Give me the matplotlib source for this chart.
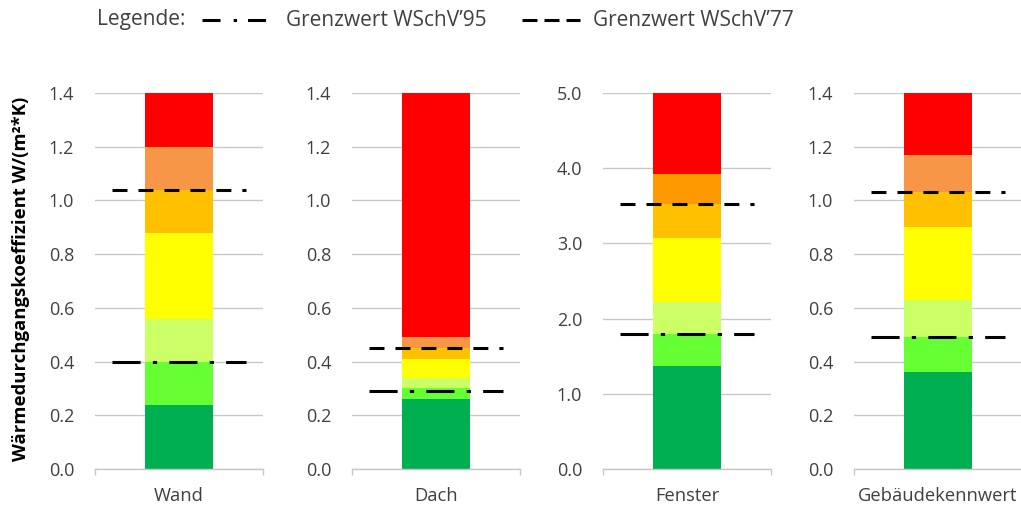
import matplotlib
matplotlib.use("Agg")
import matplotlib.pyplot as plt
from matplotlib.lines import Line2D
from matplotlib.ticker import FormatStrFormatter, MultipleLocator

plt.rcParams['font.family'] = ['Open Sans', 'DejaVu Sans']

categories = ["Wand", "Dach", "Fenster", "Gebäudekennwert"]
# upper edge of each colour band (bottom -> top)
wand_tops = [0.24, 0.40, 0.56, 0.88, 1.04, 1.20, 1.40]
dach_tops = [0.26, 0.30, 0.34, 0.41, 0.45, 0.49, 1.40]
fenster_tops = [1.37, 1.79, 2.22, 3.07, 3.52, 3.92, 5.00]
gebaeude_tops = [0.36, 0.49, 0.63, 0.90, 1.03, 1.17, 1.40]
limit_95 = [0.40, 0.29, 1.79, 0.49]
limit_77 = [1.04, 0.45, 3.52, 1.03]
y_max = [1.4, 1.4, 5.0, 1.4]
y_step = [0.2, 0.2, 1.0, 0.2]

band_colors = ["#00B050", "#66FF33", "#CCFF66", "#FFFF00", "#FFC000", "#F79646", "#FF0000"]
fenster_colors = ["#00B050", "#66FF33", "#CCFF66", "#FFFF00", "#FFC000", "#FF9900", "#FF0000"]
all_tops = [wand_tops, dach_tops, fenster_tops, gebaeude_tops]
all_colors = [band_colors, band_colors, fenster_colors, band_colors]

W, H = 1021, 508
fig = plt.figure(figsize=(W / 100, H / 100), dpi=100)

ax_left = [95, 352, 603, 854]
ax_w = 168
ax_top, ax_bot = 93, 469
grid_c = "#C8C8C8"
txt_c = "#404040"

lw = 2.2
dash_77 = (4.9, 3.6)
dash_95 = (9.2, 4.0, 1.4, 4.0)

for i, cat in enumerate(categories):
    ax = fig.add_axes([ax_left[i] / W, (H - ax_bot) / H, ax_w / W, (ax_bot - ax_top) / H])
    tops = all_tops[i]
    bottom = 0.0
    for t, c in zip(tops, all_colors[i]):
        ax.bar(0, t - bottom, bottom=bottom, width=0.4, color=c, linewidth=0, zorder=2)
        bottom = t
    ax.plot([-0.4, 0.4], [limit_77[i]] * 2, color="black", lw=lw, dashes=dash_77,
            dash_capstyle="butt", zorder=3)
    ax.plot([-0.4, 0.4], [limit_95[i]] * 2, color="black", lw=lw, dashes=dash_95,
            dash_capstyle="butt", zorder=3)
    ax.set_xlim(-0.5, 0.5)
    ax.set_ylim(0, y_max[i])
    ax.yaxis.set_major_locator(MultipleLocator(y_step[i]))
    ax.yaxis.set_major_formatter(FormatStrFormatter("%.1f"))
    ax.grid(axis="y", color=grid_c, lw=1, zorder=0)
    ax.set_axisbelow(True)
    for s in ["left", "right", "top"]:
        ax.spines[s].set_visible(False)
    ax.spines["bottom"].set_color(grid_c)
    ax.spines["bottom"].set_linewidth(1)
    ax.set_xticks([0])
    ax.set_xticklabels([cat])
    ax.set_xticks([-0.5, 0.5], minor=True)
    ax.tick_params(axis="x", which="major", length=0, pad=13, labelsize=13.2, labelcolor=txt_c)
    ax.tick_params(axis="x", which="minor", length=4, color=grid_c, width=1)
    ax.tick_params(axis="y", length=0, pad=15, labelsize=13, labelcolor=txt_c)
    ax.patch.set_alpha(0)

fig.text(21 / W, 1 - 279 / H, "Wärmedurchgangskoeffizient W/(m²*K)", rotation=90,
         ha="center", va="center", fontsize=13.3, fontweight="bold", color="black")

# legend
ly = 1 - 20 / H
fs_leg = 15
fig.text(97 / W, ly, "Legende:", ha="left", va="center", fontsize=fs_leg, color=txt_c)
fig.add_artist(Line2D([202 / W, 266 / W], [ly, ly], transform=fig.transFigure, color="black",
                      lw=lw, dashes=(5.9, 4.3, 1.1, 3.6), dash_capstyle="butt"))
fig.text(286 / W, ly, "Grenzwert WSchV’95", ha="left", va="center", fontsize=fs_leg, color=txt_c)
fig.add_artist(Line2D([522 / W, 580 / W], [ly, ly], transform=fig.transFigure, color="black",
                      lw=lw, dashes=(4.9, 2.3), dash_capstyle="butt"))
fig.text(593 / W, ly, "Grenzwert WSchV’77", ha="left", va="center", fontsize=fs_leg, color=txt_c)

fig.savefig("out.png", dpi=100)
